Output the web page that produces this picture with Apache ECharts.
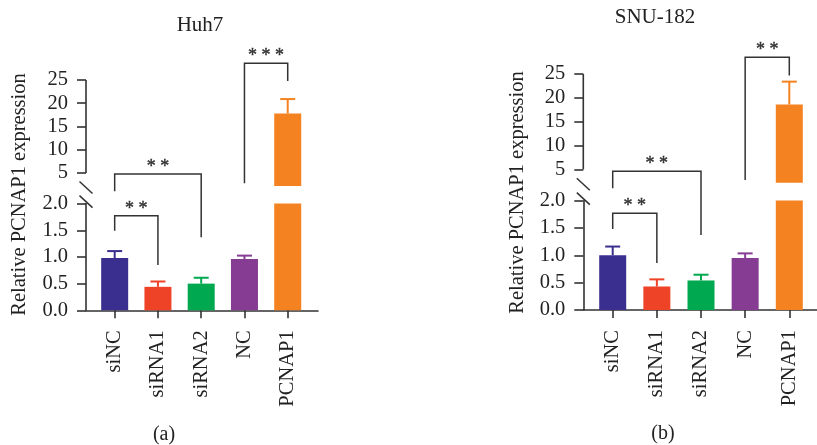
<!DOCTYPE html>
<html><head><meta charset="utf-8">
<script src="https://cdn.jsdelivr.net/npm/echarts@6/dist/echarts.min.js"></script>
<style>html,body{margin:0;padding:0;background:#fff}#c{width:817px;height:445px}</style>
</head><body><div id="c"></div>
<script>
// ---------- data ----------
const categories = ['siNC', 'siRNA1', 'siRNA2', 'NC', 'PCNAP1'];
const barColors = ['#3A2F8F', '#EE4327', '#00A84F', '#853C92', '#F58220'];
const huh7Means = [0.98, 0.44, 0.50, 0.96, 17.8];
const huh7Errors = [0.13, 0.10, 0.11, 0.065, 3.1];
const snuMeans = [1.00, 0.43, 0.54, 0.95, 18.6];
const snuErrors = [0.16, 0.13, 0.105, 0.085, 4.8];
const lowerTicks = [0, 0.5, 1.0, 1.5, 2.0];
const upperTicks = [5, 10, 15, 20, 25];
const lowerMax = 2.0, upperMin = 2.2, upperMax = 25;
// brackets: [leftIndex, rightIndex, lineLevel, leftLegEnd, rightLegEnd]
const huh7Brackets = [[0, 1, 1.77, 1.49, 0.85], [0, 2, 4.78, 2.14, 1.37], [3, 4, 28.6, 2.78, 24.8]];
const huh7Stars = ['* *', '* *', '* * *'];
const snuBrackets = [[0, 1, 1.77, 1.48, 0.86], [0, 2, 4.64, 2.14, 1.37], [3, 4, 28.5, 2.78, 24.7]];
const snuStars = ['* *', '* *', '* *'];

// ---------- layout ----------
const FONT = '"Liberation Serif", "DejaVu Serif", serif';
const AXIS = '#333333';
const panels = [
  { title: 'Huh7', tag: '(a)', means: huh7Means, errs: huh7Errors, brackets: huh7Brackets, stars: huh7Stars,
    left: 86, width: 232, lowerTop: 203.6, lowerBottom: 310.3, upperTop: 80, upperBottom: 186,
    xMin: -0.663, xMax: 4.70, titleX: 200, titleY: 25.5, nameX: 20, nameY: 194.5, tagX: 164, tagY: 435 },
  { title: 'SNU-182', tag: '(b)', means: snuMeans, errs: snuErrors, brackets: snuBrackets, stars: snuStars,
    left: 583.3, width: 234, lowerTop: 200.6, lowerBottom: 310, upperTop: 74, upperBottom: 182.8,
    xMin: -0.666, xMax: 4.634, titleX: 655, titleY: 17, nameX: 518, nameY: 192.5, tagX: 663, tagY: 434 }
];

const chart = echarts.init(document.getElementById('c'), null, { renderer: 'canvas' });
const catIdx = categories.map((_, i) => i);

const grid = [], xAxis = [], yAxis = [], series = [], graphic = [];

panels.forEach((p, k) => {
  const lo = k * 2, up = k * 2 + 1;
  grid.push({ left: p.left, top: p.lowerTop, width: p.width, height: p.lowerBottom - p.lowerTop, containLabel: false, outerBoundsMode: 'none' });
  grid.push({ left: p.left, top: p.upperTop, width: p.width, height: p.upperBottom - p.upperTop, containLabel: false, outerBoundsMode: 'none' });
  xAxis.push({
    type: 'value', gridIndex: lo, min: p.xMin, max: p.xMax,
    axisLine: { show: true, onZero: false, lineStyle: { color: AXIS, width: 1.6 } },
    axisTick: { show: true, customValues: catIdx, length: 8, lineStyle: { color: AXIS, width: 1.6 } },
    axisLabel: { show: true, customValues: catIdx, rotate: 90, margin: 20, formatter: v => categories[Math.round(v)],
      fontFamily: FONT, fontSize: 20.5, color: '#222' },
    splitLine: { show: false }
  });
  xAxis.push({ type: 'value', gridIndex: up, min: p.xMin, max: p.xMax, show: false, axisLine: { onZero: false }, splitLine: { show: false } });
  yAxis.push({
    type: 'value', gridIndex: lo, min: lowerTicks[0], max: lowerTicks[lowerTicks.length - 1], interval: lowerTicks[1] - lowerTicks[0],
    axisLine: { show: true, onZero: false, lineStyle: { color: AXIS, width: 1.6 } },
    axisTick: { show: true, length: 9, lineStyle: { color: AXIS, width: 1.6 } },
    axisLabel: { margin: 18, formatter: v => v.toFixed(1), fontFamily: FONT, fontSize: 20.5, color: '#222' },
    splitLine: { show: false }
  });
  yAxis.push({
    type: 'value', gridIndex: up, min: upperMin, max: upperMax,
    axisLine: { show: false, onZero: false },
    axisTick: { show: true, customValues: upperTicks, length: 9, lineStyle: { color: AXIS, width: 1.6 } },
    axisLabel: { customValues: upperTicks, margin: 18, fontFamily: FONT, fontSize: 20.5, color: '#222' },
    splitLine: { show: false }
  });

  // bars: lower segment and upper segment
  series.push({
    type: 'bar', xAxisIndex: lo, yAxisIndex: lo, barWidth: 27, clip: true, silent: true,
    data: p.means.map((v, i) => ({ value: [i, v], itemStyle: { color: barColors[i] } }))
  });
  series.push({
    type: 'bar', xAxisIndex: up, yAxisIndex: up, barWidth: 27, clip: true, silent: true,
    data: p.means.map((v, i) => v > upperMin ? ({ value: [i, v], itemStyle: { color: barColors[i] } }) : '-')
  });

  function yPix(v) {
    if (v <= lowerMax) return chart.convertToPixel({ yAxisIndex: lo }, v);
    if (v >= upperMin) return chart.convertToPixel({ yAxisIndex: up }, v);
    const a = chart.convertToPixel({ yAxisIndex: lo }, lowerMax);
    const b = chart.convertToPixel({ yAxisIndex: up }, upperMin);
    return a + (b - a) * (v - lowerMax) / (upperMin - lowerMax);
  }
  function xPix(api, x) { return api.coord([x, 0])[0]; }

  // error bars
  series.push({
    type: 'custom', xAxisIndex: lo, yAxisIndex: lo, silent: true, z: 5, clip: false,
    data: p.means.map((v, i) => [i, v, p.errs[i]]),
    renderItem: (params, api) => {
      const i = api.value(0), m = api.value(1), e = api.value(2);
      const x = xPix(api, i), y0 = yPix(m), y1 = yPix(m + e);
      const col = barColors[params.dataIndex];
      return { type: 'group', children: [
        { type: 'line', shape: { x1: x, y1: y0, x2: x, y2: y1 }, style: { stroke: col, lineWidth: 2 } },
        { type: 'line', shape: { x1: x - 7.5, y1: y1, x2: x + 7.5, y2: y1 }, style: { stroke: col, lineWidth: 2 } }
      ] };
    }
  });

  // significance brackets
  series.push({
    type: 'custom', xAxisIndex: lo, yAxisIndex: lo, silent: true, z: 6, clip: false,
    data: p.brackets,
    renderItem: (params, api) => {
      const a = api.value(0), b = api.value(1), lv = api.value(2), le = api.value(3), re = api.value(4);
      const xa = xPix(api, a), xb = xPix(api, b), yl = yPix(lv);
      return { type: 'group', children: [
        { type: 'polyline', shape: { points: [[xa, yPix(le)], [xa, yl], [xb, yl], [xb, yPix(re)]] },
          style: { stroke: AXIS, lineWidth: 1.5, fill: null } },
        { type: 'text', style: { text: p.stars[params.dataIndex], x: (xa + xb) / 2, y: yl + 2,
          align: 'center', verticalAlign: 'bottom', font: '18px ' + FONT, fill: '#333', stroke: '#333', lineWidth: 0.4 } }
      ] };
    }
  });

  // axis break: upper axis line + slashes
  series.push({
    type: 'custom', xAxisIndex: lo, yAxisIndex: lo, silent: true, z: 7, clip: false,
    data: [[p.xMin, 0]],
    renderItem: (params, api) => {
      const x = xPix(api, api.value(0));
      const yTop = yPix(upperMax), yLow = yPix(upperTicks[0]);
      const s1 = yPix(upperMin) + 1.5, s2 = yPix(lowerMax) - 2;
      const st = { stroke: AXIS, lineWidth: 1.5 };
      return { type: 'group', children: [
        { type: 'line', shape: { x1: x, y1: yTop, x2: x, y2: yLow }, style: { stroke: AXIS, lineWidth: 1.6 } },
        { type: 'line', shape: { x1: x - 6.5, y1: s1 - 6, x2: x + 6.5, y2: s1 + 6 }, style: st },
        { type: 'line', shape: { x1: x - 6.5, y1: s2 - 6, x2: x + 6.5, y2: s2 + 6 }, style: st }
      ] };
    }
  });

  graphic.push({ type: 'text', x: p.titleX, y: p.titleY, style: { text: p.title, align: 'center', verticalAlign: 'middle', font: '21px ' + FONT, fill: '#222' } });
  graphic.push({ type: 'text', x: p.nameX, y: p.nameY, rotation: Math.PI / 2, style: { text: 'Relative PCNAP1 expression', align: 'center', verticalAlign: 'middle', font: '20.5px ' + FONT, fill: '#222' } });
  graphic.push({ type: 'text', x: p.tagX, y: p.tagY, style: { text: p.tag, align: 'center', verticalAlign: 'middle', font: '20px ' + FONT, fill: '#222' } });
});

chart.setOption({ animation: false, backgroundColor: '#fff', grid, xAxis, yAxis, series, graphic });
</script></body></html>
